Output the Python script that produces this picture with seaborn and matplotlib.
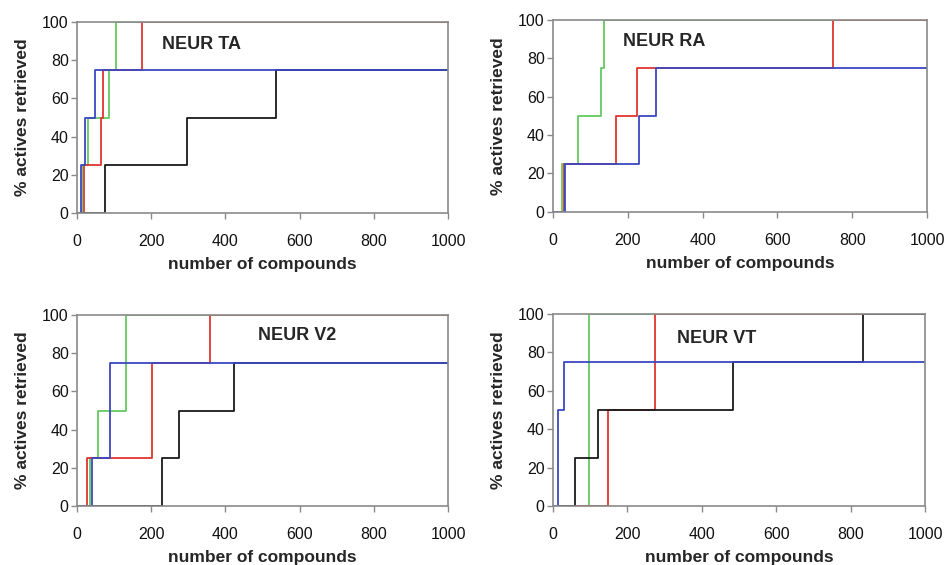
import numpy as np
import pandas as pd
import matplotlib
matplotlib.use("Agg")
import matplotlib.pyplot as plt
import seaborn as sns

# step curves: x where each step happens, y level reached (ends at x=1000)
ta_green_x = [0, 13, 31, 87, 105, 1000]
ta_green_y = [0, 25, 50, 75, 100, 100]
ta_red_x = [0, 20, 66, 69, 175, 1000]
ta_red_y = [0, 25, 50, 75, 100, 100]
ta_black_x = [0, 75, 295, 535, 1000]
ta_black_y = [0, 25, 50, 75, 75]
ta_blue_x = [0, 11, 22, 48, 1000]
ta_blue_y = [0, 25, 50, 75, 75]

ra_green_x = [0, 24, 67, 128, 137, 1000]
ra_green_y = [0, 25, 50, 75, 100, 100]
ra_red_x = [0, 29, 168, 225, 748, 1000]
ra_red_y = [0, 25, 50, 75, 100, 100]
ra_blue_x = [0, 32, 229, 275, 1000]
ra_blue_y = [0, 25, 50, 75, 75]

v2_green_x = [0, 36, 57, 132, 1000]
v2_green_y = [0, 25, 50, 100, 100]
v2_red_x = [0, 27, 202, 358, 1000]
v2_red_y = [0, 25, 75, 100, 100]
v2_black_x = [0, 229, 276, 424, 1000]
v2_black_y = [0, 25, 50, 75, 75]
v2_blue_x = [0, 40, 90, 1000]
v2_blue_y = [0, 25, 75, 75]

vt_green_x = [0, 96, 1000]
vt_green_y = [0, 100, 100]
vt_red_x = [0, 148, 274, 1000]
vt_red_y = [0, 50, 100, 100]
vt_black_x = [0, 60, 122, 484, 832, 1000]
vt_black_y = [0, 25, 50, 75, 100, 100]
vt_blue_x = [0, 13, 30, 1000]
vt_blue_y = [0, 50, 75, 75]

x_ticks = [0, 200, 400, 600, 800, 1000]
y_ticks = [0, 20, 40, 60, 80, 100]

colors = {"green": "#62c962", "red": "#e0352e", "black": "#1a1a1a", "blue": "#3a48c0"}


def make_df(series):
    parts = []
    for name, xs, ys in series:
        parts.append(pd.DataFrame({"x": xs, "y": ys, "method": name}))
    return pd.concat(parts, ignore_index=True)


panels = [
    ("NEUR TA", (229, 88), [0.0813, 0.623, 0.392, 0.338],
     [("green", ta_green_x, ta_green_y), ("red", ta_red_x, ta_red_y),
      ("black", ta_black_x, ta_black_y), ("blue", ta_blue_x, ta_blue_y)]),
    ("NEUR RA", (187, 88.5), [0.584, 0.625, 0.395, 0.340],
     [("green", ra_green_x, ra_green_y), ("red", ra_red_x, ra_red_y),
      ("blue", ra_blue_x, ra_blue_y)]),
    ("NEUR V2", (488, 89.5), [0.0813, 0.1044, 0.392, 0.338],
     [("green", v2_green_x, v2_green_y), ("red", v2_red_x, v2_red_y),
      ("black", v2_black_x, v2_black_y), ("blue", v2_blue_x, v2_blue_y)]),
    ("NEUR VT", (333, 87), [0.584, 0.1044, 0.393, 0.340],
     [("green", vt_green_x, vt_green_y), ("red", vt_red_x, vt_red_y),
      ("black", vt_black_x, vt_black_y), ("blue", vt_blue_x, vt_blue_y)]),
]

sns.set_style("white")
plt.rcParams['font.family'] = ['Liberation Sans', 'DejaVu Sans']

fig = plt.figure(figsize=(9.47, 5.65), dpi=100)

for title, (tx, ty), rect, series in panels:
    ax = fig.add_axes(rect)
    df = make_df(series)
    sns.lineplot(data=df, x="x", y="y", hue="method", palette=colors,
                 estimator=None, sort=False, drawstyle="steps-post",
                 linewidth=1.3, legend=False, ax=ax)
    ax.set_xlim(0, 1000)
    ax.set_ylim(0, 100)
    ax.set_xticks(x_ticks)
    ax.set_yticks(y_ticks)
    for sp in ax.spines.values():
        sp.set_color("#8a8a8a")
        sp.set_linewidth(1.2)
    ax.tick_params(direction="out", length=4, width=1, color="#8a8a8a",
                   labelsize=11.5, labelcolor="#111111", bottom=True, left=True)
    ax.tick_params(axis="x", pad=11)
    ax.tick_params(axis="y", pad=2)
    ax.set_xlabel("number of compounds", fontsize=12.5, fontweight="bold", labelpad=6)
    ax.set_ylabel("% actives retrieved", fontsize=12.5, fontweight="bold", labelpad=9)
    ax.text(tx, ty, title, fontsize=13, fontweight="bold", va="center", ha="left")

fig.savefig("out.png", dpi=100)
